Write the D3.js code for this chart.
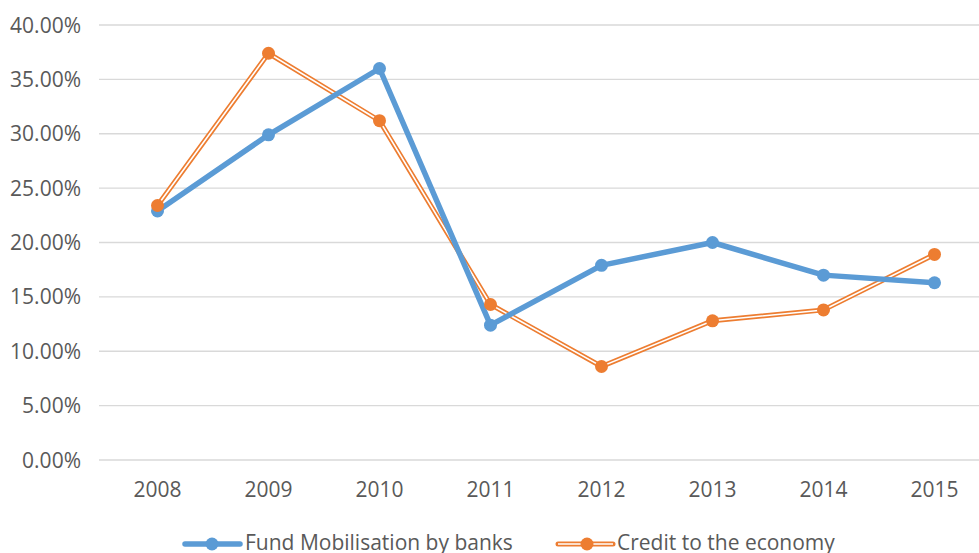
<!DOCTYPE html>
<html>
<head>
<meta charset="utf-8">
<script src="https://cdn.jsdelivr.net/npm/d3@7"></script>
<style>
  body { margin: 0; background: #fff; }
  text { font-family: 'Open Sans', sans-serif; fill: #595959; }
</style>
</head>
<body>
<div id="content"></div>
<script>
const width = 979;
const height = 553;

const years = ['2008', '2009', '2010', '2011', '2012', '2013', '2014', '2015'];
const fundMobilisation = [0.229, 0.299, 0.360, 0.124, 0.179, 0.200, 0.170, 0.163];
const creditEconomy = [0.234, 0.374, 0.312, 0.143, 0.086, 0.128, 0.138, 0.189];
const yTicks = [0, 0.05, 0.10, 0.15, 0.20, 0.25, 0.30, 0.35, 0.40];

const fig = d3.select('#content')
    .append('svg')
    .attr('width', width)
    .attr('height', height);

const x = d3.scaleBand()
    .domain(years)
    .range([102, 990]);

const y = d3.scaleLinear()
    .domain([0, 0.40])
    .range([460, 25]);

// gridlines
fig.append('g')
    .selectAll('line')
    .data(yTicks)
    .join('line')
    .attr('x1', 99)
    .attr('x2', width)
    .attr('y1', (d) => y(d))
    .attr('y2', (d) => y(d))
    .attr('stroke', '#d9d9d9')
    .attr('stroke-width', 1.3);

// y labels
fig.append('g')
    .selectAll('text')
    .data(yTicks)
    .join('text')
    .attr('x', 81)
    .attr('y', (d) => y(d))
    .attr('dy', '0.36em')
    .attr('text-anchor', 'end')
    .attr('font-size', 21)
    .text((d) => d3.format('.2%')(d));

// x labels
fig.append('g')
    .selectAll('text')
    .data(years)
    .join('text')
    .attr('x', (d) => x(d) + x.bandwidth()/2)
    .attr('y', 497)
    .attr('text-anchor', 'middle')
    .attr('font-size', 21)
    .text((d) => d);

const line = d3.line()
    .x((d, i) => x(years[i]) + x.bandwidth()/2)
    .y((d) => y(d));

// credit to the economy: double orange line
fig.append('path')
    .datum(creditEconomy)
    .attr('d', line)
    .attr('fill', 'none')
    .attr('stroke', '#ed7d31')
    .attr('stroke-width', 5);
fig.append('path')
    .datum(creditEconomy)
    .attr('d', line)
    .attr('fill', 'none')
    .attr('stroke', '#fff')
    .attr('stroke-width', 1.6);

// fund mobilisation: thick blue line
fig.append('path')
    .datum(fundMobilisation)
    .attr('d', line)
    .attr('fill', 'none')
    .attr('stroke', '#5b9bd5')
    .attr('stroke-width', 5.5)
    .attr('stroke-linejoin', 'round');

fig.append('g')
    .selectAll('circle')
    .data(fundMobilisation)
    .join('circle')
    .attr('cx', (d, i) => x(years[i]) + x.bandwidth()/2)
    .attr('cy', (d) => y(d))
    .attr('r', 6.5)
    .attr('fill', '#5b9bd5');

fig.append('g')
    .selectAll('circle')
    .data(creditEconomy)
    .join('circle')
    .attr('cx', (d, i) => x(years[i]) + x.bandwidth()/2)
    .attr('cy', (d) => y(d))
    .attr('r', 6.5)
    .attr('fill', '#ed7d31');

// legend
const legend = fig.append('g');
legend.append('line')
    .attr('x1', 185).attr('x2', 240).attr('y1', 544).attr('y2', 544)
    .attr('stroke', '#5b9bd5').attr('stroke-width', 5.5)
    .attr('stroke-linecap', 'round');
legend.append('circle')
    .attr('cx', 212).attr('cy', 544).attr('r', 6.5).attr('fill', '#5b9bd5');
legend.append('text')
    .attr('x', 245).attr('y', 550)
    .attr('font-size', 21)
    .text('Fund Mobilisation by banks');

legend.append('line')
    .attr('x1', 558).attr('x2', 613).attr('y1', 544).attr('y2', 544)
    .attr('stroke', '#ed7d31').attr('stroke-width', 5)
    .attr('stroke-linecap', 'round');
legend.append('line')
    .attr('x1', 558).attr('x2', 613).attr('y1', 544).attr('y2', 544)
    .attr('stroke', '#fff').attr('stroke-width', 1.6);
legend.append('circle')
    .attr('cx', 587).attr('cy', 544).attr('r', 6.5).attr('fill', '#ed7d31');
legend.append('text')
    .attr('x', 617).attr('y', 550)
    .attr('font-size', 21)
    .text('Credit to the economy');
</script>
</body>
</html>
